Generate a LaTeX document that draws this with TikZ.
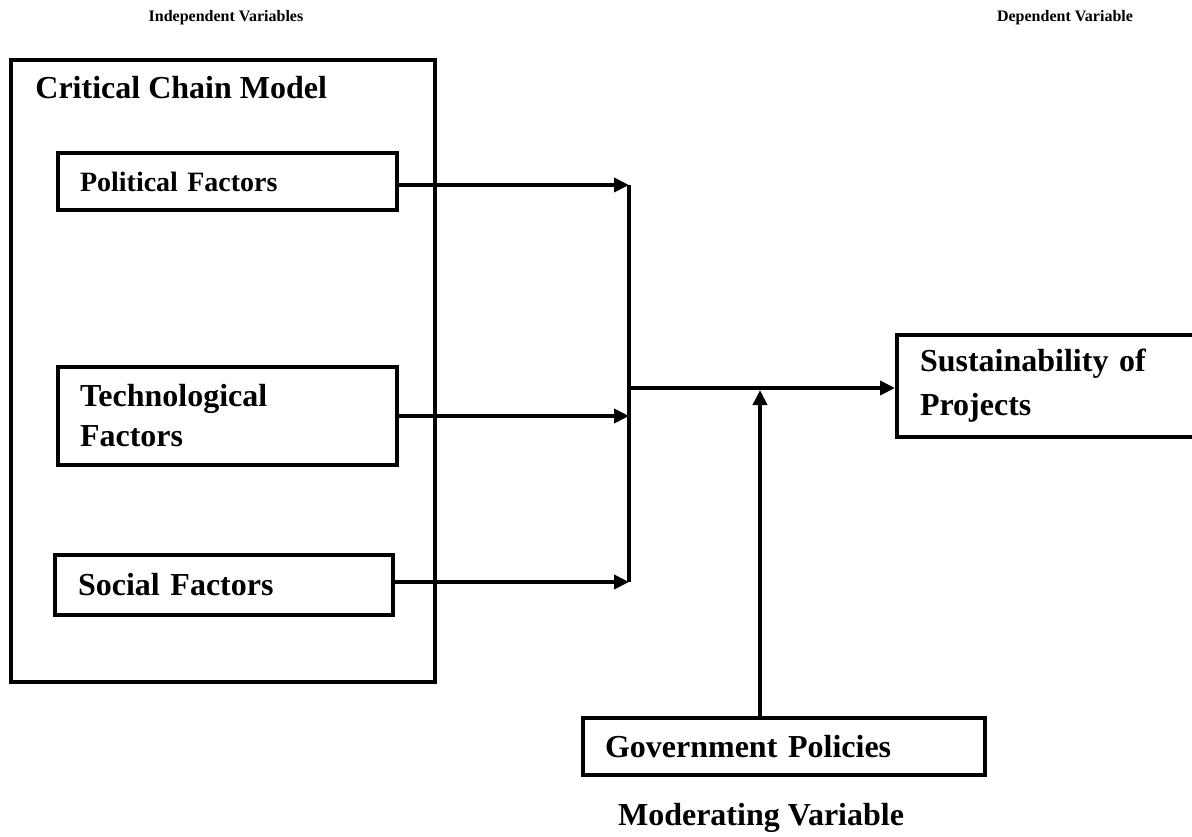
\documentclass[tikz,border=0pt]{standalone}
\usepackage{fontspec}
\setmainfont{Liberation Serif}
\usetikzlibrary{positioning,arrows.meta,calc}

\begin{document}
\begin{tikzpicture}[
    x=0.5pt, y=-0.5pt,
    >={Triangle[length=7.5pt,width=7pt]},
    factor/.style  = {rectangle, draw, line width=2pt, align=left,
                      inner xsep=11pt, inner ysep=0pt, text width=147.5pt,
                      minimum height=28.5pt,
                      font=\bfseries\fontsize{16}{20}\selectfont},
    frame/.style   = {rectangle, draw, line width=2pt, inner sep=0pt},
    heading/.style = {font=\bfseries\fontsize{8}{10}\selectfont},
    label/.style   = {font=\bfseries\fontsize{16}{20}\selectfont, inner sep=0pt},
    link/.style    = {line width=2pt},
]
\useasboundingbox (0,0) rectangle (1192,836);

% independent variables
\node[frame, minimum width=212pt, minimum height=311pt] (model) at (223,371) {};
\node[label, anchor=west] (title) at (35,88) {Critical Chain Model};
\node[factor, font=\bfseries\fontsize{14}{18}\selectfont] (political) at (227.5,181.5) {Political Factors};
\node[factor, minimum height=49pt] (techno) at (227.5,416) {Technological\\Factors};
\node[factor, minimum height=30pt, inner xsep=11.5pt, text width=146pt] (social) at (224,585) {Social Factors};

% dependent and moderating variables
\node[factor, minimum height=51pt, inner xsep=11.5pt, text width=153.5pt,
      font=\bfseries\fontsize{16}{22}\selectfont] (sustain) at (1073.5,386) {Sustainability of\\Projects};
\node[factor, text width=179pt] (govern) at (784,746.5) {Government Policies};

\node[heading] (indep) at (226,18)  {Independent Variables};
\node[heading] (dep)   at (1065,18) {Dependent Variable};
\node[label]   (moder) at (761,818) {Moderating Variable};

% junction
\coordinate (jtop) at (629,185);
\coordinate (jmid) at (629,388);
\coordinate (jbot) at (629,582);
\coordinate (mod)  at (760,390);

\draw[link, ->] (political.east |- jtop) -- (jtop);
\draw[link, ->] (techno.east) -- (techno.east -| jtop);
\draw[link, ->] (social.east |- jbot) -- (jbot);
\draw[link] (jtop) -- (jbot);
\draw[link, ->] (jmid) -- (sustain.west |- jmid);
\draw[link, ->] (govern.north -| mod) -- (mod);
\end{tikzpicture}
\end{document}
